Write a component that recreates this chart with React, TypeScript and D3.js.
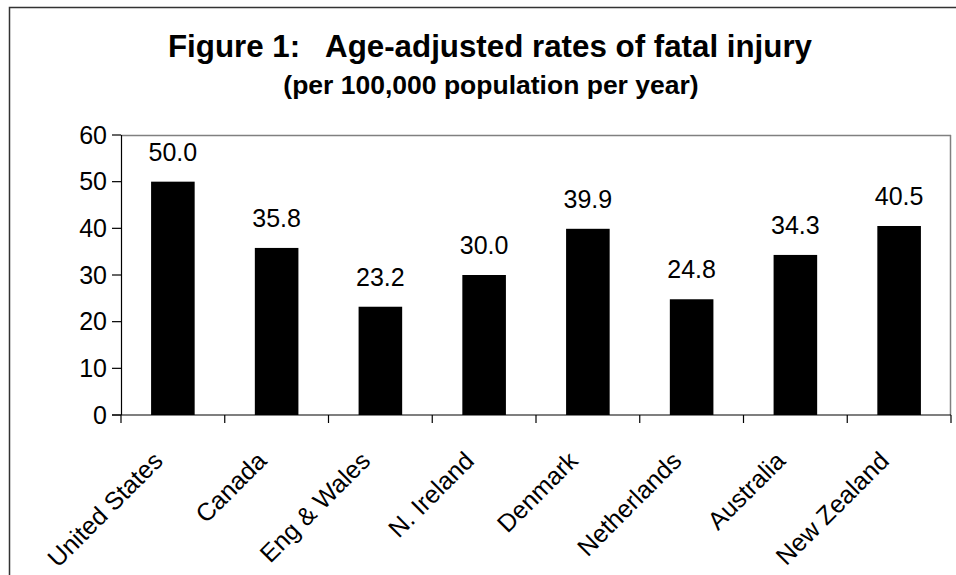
import React from "react";
import * as d3 from "d3";

const categories = ["United States", "Canada", "Eng & Wales", "N. Ireland", "Denmark", "Netherlands", "Australia", "New Zealand"];
const values = [50.0, 35.8, 23.2, 30.0, 39.9, 24.8, 34.3, 40.5];
const yTicks = [0, 10, 20, 30, 40, 50, 60];
const titleText = "Figure 1:   Age-adjusted rates of fatal injury";
const subtitleText = "(per 100,000 population per year)";

const W = 956;
const H = 575;
const left = 121;
const right = 951;
const top = 135;
const bottom = 415;
const FONT = "Arial, 'Liberation Sans', Helvetica, sans-serif";

export default function App() {
  const x = d3.scaleBand<string>().domain(categories).range([left, right]).paddingInner(0.58).paddingOuter(0.29);
  const band = d3.scaleBand<string>().domain(categories).range([left, right]).padding(0);
  const y = d3.scaleLinear().domain([0, 60]).range([bottom, top]);
  const boundaries = d3.range(categories.length + 1).map((i) => left + i * band.step());

  return (
    <svg width={W} height={H} style={{ position: "absolute", left: 0, top: 0, background: "#fff" }} fontFamily={FONT}>
      <rect x={9.5} y={7.5} width={W + 20} height={H + 20} fill="#fff" stroke="#333" strokeWidth={1.5} />
      <text x={490} y={57} textAnchor="middle" fontSize={31.3} fontWeight="bold" style={{ whiteSpace: "pre" }}>
        {titleText}
      </text>
      <text x={491} y={94} textAnchor="middle" fontSize={26.5} fontWeight="bold">
        {subtitleText}
      </text>
      {/* plot border */}
      <line x1={left} x2={right} y1={top + 0.5} y2={top + 0.5} stroke="#808080" strokeWidth={1.5} />
      <line x1={right - 0.5} x2={right - 0.5} y1={top} y2={bottom} stroke="#808080" strokeWidth={1.5} />
      {/* bars */}
      {categories.map((c, i) => (
        <rect key={c} x={x(c)} y={y(values[i])} width={x.bandwidth()} height={bottom - y(values[i])} fill="#000" />
      ))}
      {categories.map((c, i) => (
        <text key={c + "v"} x={(x(c) as number) + x.bandwidth() / 2} y={y(values[i]) - 21} textAnchor="middle" fontSize={25}>
          {values[i].toFixed(1)}
        </text>
      ))}
      {/* y axis */}
      <line x1={left + 0.5} x2={left + 0.5} y1={top} y2={bottom} stroke="#000" strokeWidth={1.2} />
      {yTicks.map((t) => (
        <g key={t}>
          <line x1={left - 9} x2={left} y1={y(t)} y2={y(t)} stroke="#000" strokeWidth={1.2} />
          <text x={left - 14} y={y(t)} dy="0.35em" textAnchor="end" fontSize={25}>
            {t}
          </text>
        </g>
      ))}
      {/* x axis */}
      <line x1={left - 9} x2={right} y1={bottom} y2={bottom} stroke="#000" strokeWidth={1.2} />
      {boundaries.map((b, i) => (
        <line key={i} x1={b} x2={b} y1={bottom} y2={bottom + 8} stroke="#000" strokeWidth={1.2} />
      ))}
      {categories.map((c) => {
        const cx = (band(c) as number) + band.bandwidth() / 2;
        return (
          <text key={c + "l"} transform={`translate(${cx - 21},${bottom + 35}) rotate(-45)`} textAnchor="end" fontSize={25} dy="0.7em">
            {c}
          </text>
        );
      })}
    </svg>
  );
}
